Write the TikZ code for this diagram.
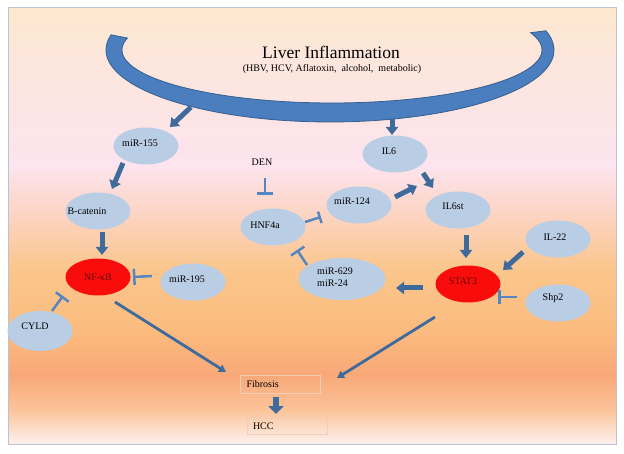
\documentclass[tikz,border=0pt]{standalone}
\usepackage{fontspec}
\setmainfont{Liberation Serif}
\usetikzlibrary{shapes.geometric,arrows.meta,calc}
\definecolor{bubble}{HTML}{B9CDE5}
\definecolor{redb}{HTML}{F80C0C}
\definecolor{redtext}{HTML}{6A0A0A}
\definecolor{arrowc}{HTML}{3E6A9C}
\definecolor{inhc}{HTML}{5686C2}
\definecolor{arcfill}{HTML}{4A7EBE}
\definecolor{arcline}{HTML}{36608E}
\definecolor{framec}{HTML}{B8C3D6}
\definecolor{boxc}{HTML}{F2CDB8}
\definecolor{bgA}{HTML}{FDE8CF}
\definecolor{bgB}{HTML}{FDE6DC}
\definecolor{bgC}{HTML}{FDE4EE}
\definecolor{bgD}{HTML}{FCD4C2}
\definecolor{bgE}{HTML}{FBC68C}
\definecolor{bgF}{HTML}{FBBB7E}
\definecolor{bgG}{HTML}{F9A878}
\definecolor{bgH}{HTML}{FBC49A}
\definecolor{bgI}{HTML}{FDF1EE}
\begin{document}
\begin{tikzpicture}[x=1pt,y=-1pt,
  font=\fontsize{10}{12}\selectfont,
  bub/.style={ellipse, fill=bubble, draw=none, minimum width=65pt, minimum height=37pt, inner sep=0pt},
  redbub/.style={bub, fill=redb},
  lbl/.style={xshift=-6pt, yshift=3pt, inner sep=0pt},
  act/.style={draw=arrowc, line width=5pt, -{Triangle[width=12pt,length=8pt]}},
  thinact/.style={draw=arrowc, line width=2.8pt, -{Triangle[width=8pt,length=7pt]}},
  bigact/.style={draw=arrowc, line width=6pt, -{Triangle[width=15pt,length=8pt]}},
  inh/.style={draw=inhc, line width=2.5pt, -{Bar[width=16pt]}},
  boxnode/.style={draw=boxc, line width=0.8pt, minimum height=18pt, text width=68pt, inner xsep=6pt, inner ysep=0pt, align=left}]
\useasboundingbox (0,0) rectangle (624,454);
\fill[white] (0,0) rectangle (624,454);
% background bands
\shade[top color=bgA, bottom color=bgB] (8,8) rectangle (616,60.5);
\shade[top color=bgB, bottom color=bgC] (8,60) rectangle (616,165.5);
\shade[top color=bgC, bottom color=bgD] (8,165) rectangle (616,215.5);
\shade[top color=bgD, bottom color=bgE] (8,215) rectangle (616,270.5);
\shade[top color=bgE, bottom color=bgF] (8,270) rectangle (616,330.5);
\shade[top color=bgF, bottom color=bgG] (8,330) rectangle (616,375.5);
\shade[top color=bgG, bottom color=bgH] (8,375) rectangle (616,410.5);
\shade[top color=bgH, bottom color=bgI] (8,410) rectangle (616,444);
\draw[framec, line width=1pt] (8,8) rectangle (616,444);
% crescent
\filldraw[fill=arcfill, draw=arcline, line width=0.8pt]
  plot[domain=192.2:-15.5, samples=90] ({330+224*cos(\x)},{50+72*sin(\x)})
  -- plot[domain=-19.0:193.0, samples=90] ({332+210*cos(\x)},{50+53*sin(\x)}) -- cycle;
\node[font=\fontsize{17.5}{20}\selectfont] (title) at (331,52) {Liver Inflammation};
\node[font=\fontsize{10}{12}\selectfont] (sub) at (332,69) {(HBV, HCV, Aflatoxin,\ \ alcohol,\ \ metabolic)};
\coordinate (arcL) at (191,107);
\coordinate (arcR) at (392,119);
% nodes
\node[bub, label={[lbl]center:miR-155}] (mir155) at (146,146) {};
\node[bub, label={[lbl,xshift=-5pt,yshift=-3pt]center:B-catenin}] (bcat) at (98,211) {};
\node[redbub, label={[lbl,xshift=6pt,yshift=-3pt,text=redtext]center:NF-κB}] (nfkb) at (98,277) {};
\node[bub, label={[lbl]center:miR-195}] (mir195) at (193,282) {};
\node[bub, minimum height=40pt, label={[lbl,xshift=1pt,yshift=2pt]center:CYLD}] (cyld) at (40,331) {};
\node (den) at (262,162) {DEN};
\node[bub, label={[lbl,xshift=-2pt,yshift=-1pt]center:HNF4a}] (hnf) at (273,227) {};
\node[bub, label={[lbl,xshift=-1pt,yshift=1pt]center:miR-124}] (mir124) at (359,205) {};
\node[bub, minimum width=87pt, minimum height=42pt, label={[lbl,xshift=-1pt,yshift=-1pt,align=left]center:miR-629\\miR-24}] (m629) at (342,279) {};
\node[bub, label={[lbl]center:IL6}] (il6) at (395,154) {};
\node[bub, label={[lbl,xshift=1pt,yshift=1pt]center:IL6st}] (il6st) at (458,210) {};
\node[redbub, label={[lbl,xshift=1pt,text=redtext]center:STAT3}] (stat3) at (468,284) {};
\node[bub, label={[lbl,xshift=3pt,yshift=-1pt]center:IL-22}] (il22) at (558,239) {};
\node[bub, label={[lbl,xshift=1pt,yshift=2pt]center:Shp2}] (shp2) at (558,303) {};
\node[boxnode] (fib) at (280.5,384) {Fibrosis};
\node[boxnode, minimum height=16pt] (hcc) at (287,426) {HCC};
% connectors
\draw[act] (arcL) -- ($(mir155)+(24,-19)$);
\draw[act] ($(mir155)+(-23,17)$) -- ($(bcat)+(14,-22)$);
\draw[act] ($(bcat)+(4,21)$) -- ($(nfkb)+(4,-22)$);
\draw[inh] ($(mir195)+(-41,-6)$) -- ($(nfkb)+(35,0)$);
\draw[inh] ($(cyld)+(12,-20)$) -- ($(nfkb)+(-35,19)$);
\draw[thinact] ($(nfkb)+(17,25)$) -- ($(fib)+(-54.5,-12)$);
\draw[inh] ($(den)+(3,16)$) -- ($(hnf)+(-8,-32)$);
\draw[inh, -{Bar[width=12pt]}] ($(hnf)+(32,-5)$) -- ($(mir124)+(-38,12)$);
\draw[inh] ($(m629)+(-35,-14)$) -- ($(hnf)+(24,23)$);
\draw[act] ($(mir124)+(36,-8)$) -- ($(il6st)+(-41,-24)$);
\draw[act] (arcR) -- ($(il6)+(-3,-19)$);
\draw[act] ($(il6)+(28,19)$) -- ($(il6st)+(-25,-22)$);
\draw[act] ($(il6st)+(8,25)$) -- ($(stat3)+(-2,-26)$);
\draw[act] ($(il22)+(-35,13)$) -- ($(stat3)+(35,-14)$);
\draw[inh, -{Bar[width=14pt]}] ($(shp2)+(-41,-6)$) -- ($(stat3)+(30,13)$);
\draw[act] ($(stat3)+(-45,4)$) -- ($(m629)+(54,9)$);
\draw[thinact] ($(stat3)+(-33,33)$) -- ($(fib)+(56.5,-6)$);
\draw[bigact] ($(fib)+(-4.5,13)$) -- ($(hcc)+(-11,-12)$);
\end{tikzpicture}
\end{document}
